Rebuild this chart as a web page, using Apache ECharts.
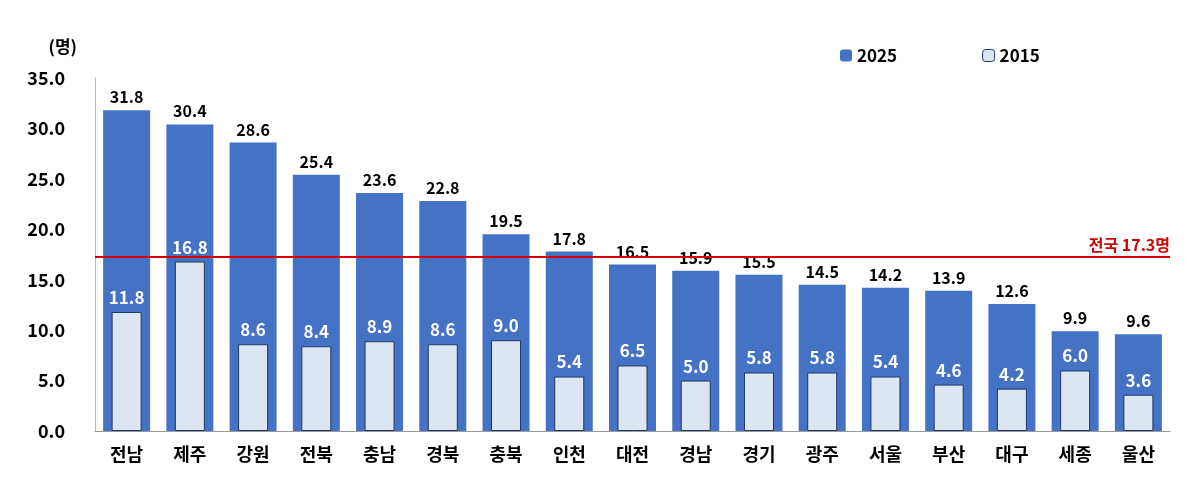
<!DOCTYPE html>
<html><head><meta charset="utf-8">
<script src="https://cdn.jsdelivr.net/npm/echarts@6/dist/echarts.min.js"></script>
<style>html,body{margin:0;padding:0;background:#fff}#c{width:1200px;height:496px}</style>
</head><body><div id="c"></div>
<script>
const categories = ['전남','제주','강원','전북','충남','경북','충북','인천','대전','경남','경기','광주','서울','부산','대구','세종','울산'];
const values2025 = [31.8,30.4,28.6,25.4,23.6,22.8,19.5,17.8,16.5,15.9,15.5,14.5,14.2,13.9,12.6,9.9,9.6];
const values2015 = [11.8,16.8,8.6,8.4,8.9,8.6,9.0,5.4,6.5,5.0,5.8,5.8,5.4,4.6,4.2,6.0,3.6];
const nationalAvg = 17.3;
const yTicks = {min:0,max:35,interval:5};
const font = '"Noto Sans CJK KR", "Noto Sans", sans-serif';
const chart = echarts.init(document.getElementById('c'));
chart.setOption({
  animation:false,
  textStyle:{fontFamily:font},
  grid:{left:95,right:30,top:78,bottom:65},
  legend:{top:42,left:835,itemGap:85,itemWidth:12,itemHeight:12,
    textStyle:{fontSize:17,fontWeight:'bold',color:'#000',fontFamily:font},
    data:[{name:'2025',itemStyle:{color:'#4472c4'}},{name:'2015',itemStyle:{color:'#dce6f2',borderColor:'#1f3864',borderWidth:1}}]},
  xAxis:[
    {type:'category',data:categories,axisTick:{show:false},axisLine:{lineStyle:{color:'#999'}},
     axisLabel:{fontSize:18,fontWeight:'bold',color:'#000',margin:14}},
    {type:'category',data:categories,show:false}
  ],
  yAxis:{type:'value',min:yTicks.min,max:yTicks.max,interval:yTicks.interval,name:'(명)',
    nameTextStyle:{fontSize:17,fontWeight:'bold',color:'#000',align:'right',padding:[0,18,8,0]},
    splitLine:{show:false},axisLine:{show:true,lineStyle:{color:'#bbb'}},axisTick:{show:false},
    axisLabel:{fontSize:18,fontWeight:'bold',color:'#000',margin:30,formatter:v=>v.toFixed(1)}},
  series:[
    {name:'2025',type:'bar',data:values2025,barWidth:47,itemStyle:{color:'#4472c4'},
     label:{show:true,position:'top',fontSize:16,fontWeight:'bold',color:'#000',formatter:p=>p.value.toFixed(1)},
     markLine:{symbol:'none',silent:true,lineStyle:{color:'#d00000',width:2,type:'solid'},
       label:{position:'insideEndTop',formatter:'전국 17.3명',color:'#d00000',fontSize:16,fontWeight:'bold',distance:[0,4]},
       data:[{yAxis:nationalAvg}]}},
    {name:'2015',type:'bar',xAxisIndex:1,data:values2015,barWidth:30,
     itemStyle:{color:'#dce6f2',borderColor:'#1f3864',borderWidth:1},
     label:{show:true,position:'top',fontSize:17,fontWeight:'bold',color:'#fff',distance:6,formatter:p=>p.value.toFixed(1)}}
  ]
});
</script></body></html>
